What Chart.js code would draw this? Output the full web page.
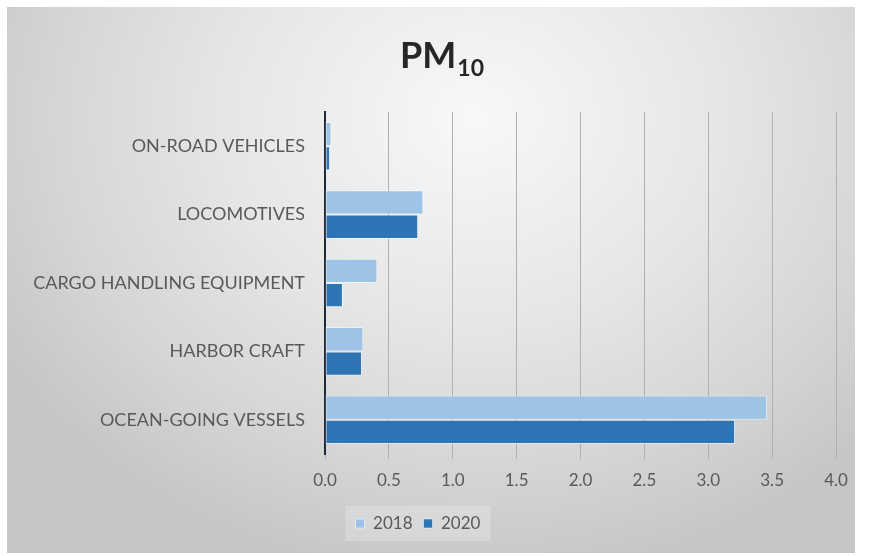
<!DOCTYPE html>
<html>
<head>
<meta charset="utf-8">
<script src="https://cdn.jsdelivr.net/npm/chart.js@4.4.1/dist/chart.umd.min.js"></script>
<style>
  html, body { margin: 0; padding: 0; background: #ffffff; }
  #wrap { position: relative; width: 869px; height: 556px; overflow: hidden; }
  #panel {
    position: absolute; left: 7px; top: 7px; width: 848px; height: 546px;
    background: radial-gradient(ellipse 65% 85% at 55% 20%, #f8f8f8 0%, #e6e6e6 45%, #d6d6d6 75%, #c6c6c6 100%);
  }
  #c { position: absolute; left: 0; top: 0; }
</style>
</head>
<body>
<div id="wrap">
  <div id="panel"></div>
  <canvas id="c" width="869" height="556"></canvas>
</div>
<script>
const categories = ["ON-ROAD VEHICLES", "LOCOMOTIVES", "CARGO HANDLING EQUIPMENT", "HARBOR CRAFT", "OCEAN-GOING VESSELS"];
const seriesNames = ["2018", "2020"];
const values2018 = [0.05, 0.77, 0.41, 0.30, 3.46];
const values2020 = [0.04, 0.73, 0.14, 0.29, 3.21];
const titleMain = "PM";
const titleSub = "10";

const FONT = "Lato, 'Open Sans', sans-serif";

const titlePlugin = {
  id: 'subTitle',
  afterDraw(chart) {
    const ctx = chart.ctx;
    ctx.save();
    ctx.fillStyle = '#262626';
    ctx.textBaseline = 'alphabetic';
    ctx.font = "bold 36px " + FONT;
    const w1 = ctx.measureText(titleMain).width;
    ctx.font = "bold 23px " + FONT;
    const w2 = ctx.measureText(titleSub).width;
    const total = w1 + w2 + 1;
    const x0 = 442 - total / 2;
    ctx.font = "bold 36px " + FONT;
    ctx.textAlign = 'left';
    ctx.fillText(titleMain, x0, 68);
    ctx.font = "bold 23px " + FONT;
    ctx.fillText(titleSub, x0 + w1 + 1, 76);
    ctx.restore();
  }
};

const legendBgPlugin = {
  id: 'legendBg',
  beforeDraw(chart) {
    const lg = chart.legend;
    if (!lg || !lg.legendHitBoxes || !lg.legendHitBoxes.length) return;
    const boxes = lg.legendHitBoxes;
    const left = Math.min(...boxes.map(b => b.left)) - 10;
    const right = Math.max(...boxes.map(b => b.left + b.width)) + 10;
    const top = Math.min(...boxes.map(b => b.top)) - 9;
    const bottom = Math.max(...boxes.map(b => b.top + b.height)) + 9;
    const ctx = chart.ctx;
    ctx.save();
    ctx.fillStyle = 'rgba(255,255,255,0.22)';
    ctx.fillRect(left, top, right - left, bottom - top);
    ctx.restore();
  }
};

new Chart(document.getElementById('c'), {
  type: 'bar',
  data: {
    labels: categories,
    datasets: [
      { label: seriesNames[0], data: values2018, backgroundColor: '#9dc3e6', borderColor: 'rgba(255,255,255,0.5)', borderWidth: 1, borderSkipped: false },
      { label: seriesNames[1], data: values2020, backgroundColor: '#2e75b6', borderColor: 'rgba(255,255,255,0.5)', borderWidth: 1, borderSkipped: false }
    ]
  },
  options: {
    indexAxis: 'y',
    responsive: false,
    animation: false,
    devicePixelRatio: 1,
    categoryPercentage: 0.71,
    barPercentage: 1.0,
    layout: { padding: { top: 112, right: 33, bottom: 14, left: 0 } },
    plugins: {
      title: { display: false },
      tooltip: { enabled: false },
      legend: {
        position: 'bottom',
        labels: {
          color: '#595959',
          font: { family: FONT, size: 17 },
          boxWidth: 9,
          boxHeight: 9,
          padding: 11
        }
      }
    },
    scales: {
      x: {
        min: 0, max: 4,
        ticks: {
          stepSize: 0.5,
          color: '#595959',
          font: { family: FONT, size: 17 },
          padding: 11,
          callback: v => Number(v).toFixed(1)
        },
        grid: { color: '#b0b0b0', lineWidth: 1, tickLength: 5, drawTicks: true },
        border: { display: false },
        afterFit(s) { s.height = 50; }
      },
      y: {
        ticks: {
          color: '#595959',
          font: { family: FONT, size: 18 },
          padding: 20
        },
        grid: { display: false, drawTicks: false },
        border: { display: true, color: '#1e2a3a', width: 2 },
        afterFit(s) { s.width = 325; }
      }
    }
  },
  plugins: [titlePlugin, legendBgPlugin]
});
</script>
</body>
</html>
